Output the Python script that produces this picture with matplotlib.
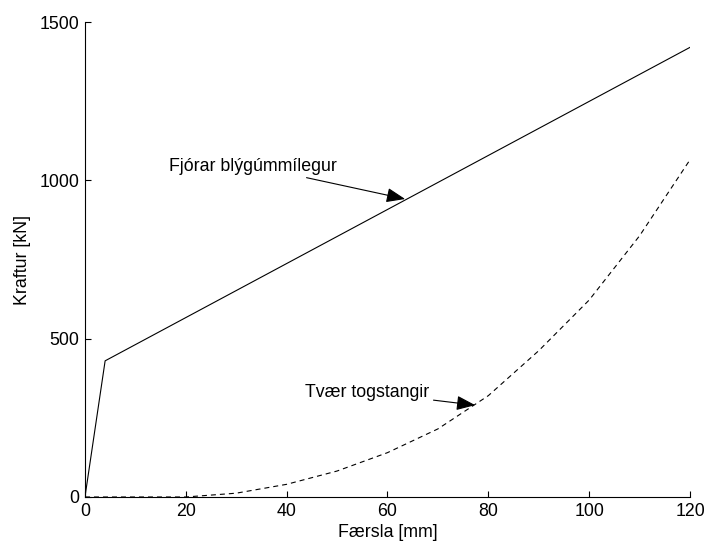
import matplotlib
matplotlib.use("Agg")
import matplotlib.pyplot as plt

plt.rcParams['font.family'] = ['Liberation Sans', 'DejaVu Sans']

# Lead-rubber bearings: bilinear force-displacement
bearing_disp = [0, 4, 120]
bearing_force = [0, 430, 1420]

# Tie rods: slack until 20 mm, then stiffening
rod_disp = [0, 10, 20, 30, 40, 50, 60, 70, 80, 90, 100, 110, 120]
rod_force = [0, 0, 0, 12, 40, 82, 140, 215, 320, 462, 622, 825, 1065]

x_ticks = [0, 20, 40, 60, 80, 100, 120]
y_ticks = [0, 500, 1000, 1500]

FS = 12.8

fig = plt.figure(figsize=(7.08, 5.45), dpi=100)
ax = fig.add_axes([0.120, 0.0881, 0.8546, 0.8715])

ax.plot(bearing_disp, bearing_force, color='black', lw=0.8)
ax.plot(rod_disp, rod_force, color='black', lw=0.8, ls=(0, (4.5, 3.6)))

ax.set_xlim(0, 120)
ax.set_ylim(0, 1500)
ax.set_xticks(x_ticks)
ax.set_yticks(y_ticks)
ax.tick_params(direction='in', length=4, width=0.8, labelsize=FS, pad=4)
for side in ('top', 'right'):
    ax.spines[side].set_visible(False)
for side in ('left', 'bottom'):
    ax.spines[side].set_linewidth(0.8)

ax.set_xlabel('Færsla [mm]', fontsize=FS, labelpad=3)
ax.set_ylabel('Kraftur [kN]', fontsize=FS, labelpad=6)

arrow = dict(arrowstyle='-|>,head_length=0.9,head_width=0.35', color='black',
             lw=0.8, shrinkA=1, shrinkB=0)
ax.annotate('Fjórar blýgúmmílegur', xy=(63.5, 941), xytext=(50.0, 1045),
            ha='right', va='center', fontsize=FS, arrowprops=arrow)
ax.annotate('Tvær togstangir', xy=(77.4, 290), xytext=(68.3, 331),
            ha='right', va='center', fontsize=FS, arrowprops=arrow)

fig.savefig('out.png', dpi=100)
